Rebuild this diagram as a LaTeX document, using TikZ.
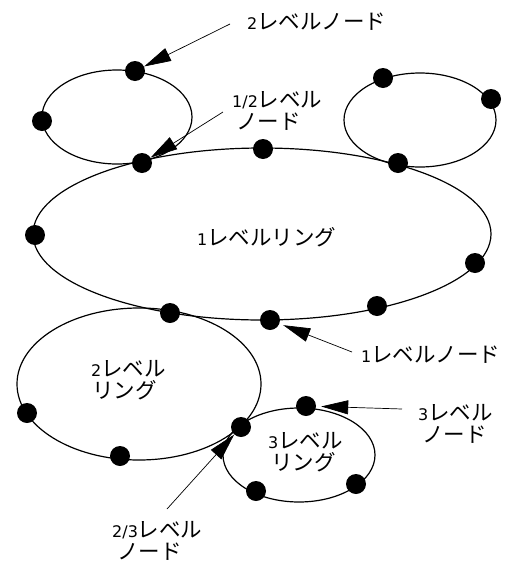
\documentclass[tikz,border=0pt]{standalone}
\usepackage{fontspec}
\newfontfamily\jp{Noto Sans CJK JP}
\newfontfamily\dgf{DejaVu Sans}
\usetikzlibrary{arrows.meta,shapes.geometric}
\newcommand\dg[1]{{\dgf\fontsize{16}{16}\selectfont #1}}
\begin{document}
\begin{tikzpicture}[x=1pt,y=-1pt,
  ring/.style={draw,line width=1.2pt,fill=none},
  dot/.style={circle,fill=black,inner sep=0pt,minimum size=20pt},
  lbl/.style={font=\jp\fontsize{21.5}{21.5}\selectfont,inner sep=0pt,align=left,anchor=west},
  arr/.style={line width=0.7pt,-{Triangle[length=27pt,width=14pt]}}]
\useasboundingbox (0,0) rectangle (512,563);
% rings
\draw[ring] (117,117) ellipse (75 and 47);
\draw[ring] (420,120) ellipse (76 and 47);
\draw[ring] (262,234) ellipse (229 and 86);
\draw[ring] (139,384) ellipse (122 and 76);
\draw[ring] (299,455) ellipse (76 and 47);
% dots
\node[dot] (n2a) at (135,71) {};
\node[dot] (n2b) at (42,121) {};
\node[dot] (n12a) at (142,163) {};
\node[dot] (n1a) at (263,149) {};
\node[dot] (n12b) at (398,163) {};
\node[dot] (n2c) at (383,78) {};
\node[dot] (n2d) at (491,99) {};
\node[dot] (n1b) at (35,235) {};
\node[dot] (n1c) at (475,263) {};
\node[dot] (n1d) at (377,306) {};
\node[dot] (n1e) at (270,320) {};
\node[dot] (n12c) at (170,313) {};
\node[dot] (n2e) at (27,413) {};
\node[dot] (n2f) at (120,456) {};
\node[dot] (n23) at (241,427) {};
\node[dot] (n3a) at (306,406) {};
\node[dot] (n3b) at (256,491) {};
\node[dot] (n3c) at (356,484) {};
% ring labels
\node[lbl] (t1ring) at (197,237) {\dg{1}レベルリング};
\node[lbl] (t2ring) at (91,380) {\dg{2}レベル\\\hspace{1pt}リング};
\node[lbl] (t3ring) at (268,452) {\dg{3}レベル\\\hspace{3pt}リング};
% callout labels
\node[lbl] (t2node) at (247,22) {\dg{2}レベルノード};
\node[lbl] (t12node) at (232,111) {\dg{1/2}レベル\\\hspace{4pt}ノード};
\node[lbl] (t1node) at (361,355) {\dg{1}レベルノード};
\node[lbl] (t3node) at (418,424) {\dg{3}レベル\\\hspace{4pt}ノード};
\node[lbl] (t23node) at (112,541) {\dg{2/3}レベル\\\hspace{5pt}ノード};
% arrow starts
\coordinate (s2) at (230,24);
\coordinate (s12) at (223,112);
\coordinate (s1) at (352,352);
\coordinate (s3) at (402,409);
\coordinate (s23) at (167,509);
\draw[arr] (s2) -- (n2a);
\draw[arr] (s12) -- (n12a);
\draw[arr,shorten >=4pt] (s1) -- (n1e);
\draw[arr,shorten >=5pt] (s3) -- (n3a);
\draw[arr] (s23) -- (n23);
\end{tikzpicture}
\end{document}
